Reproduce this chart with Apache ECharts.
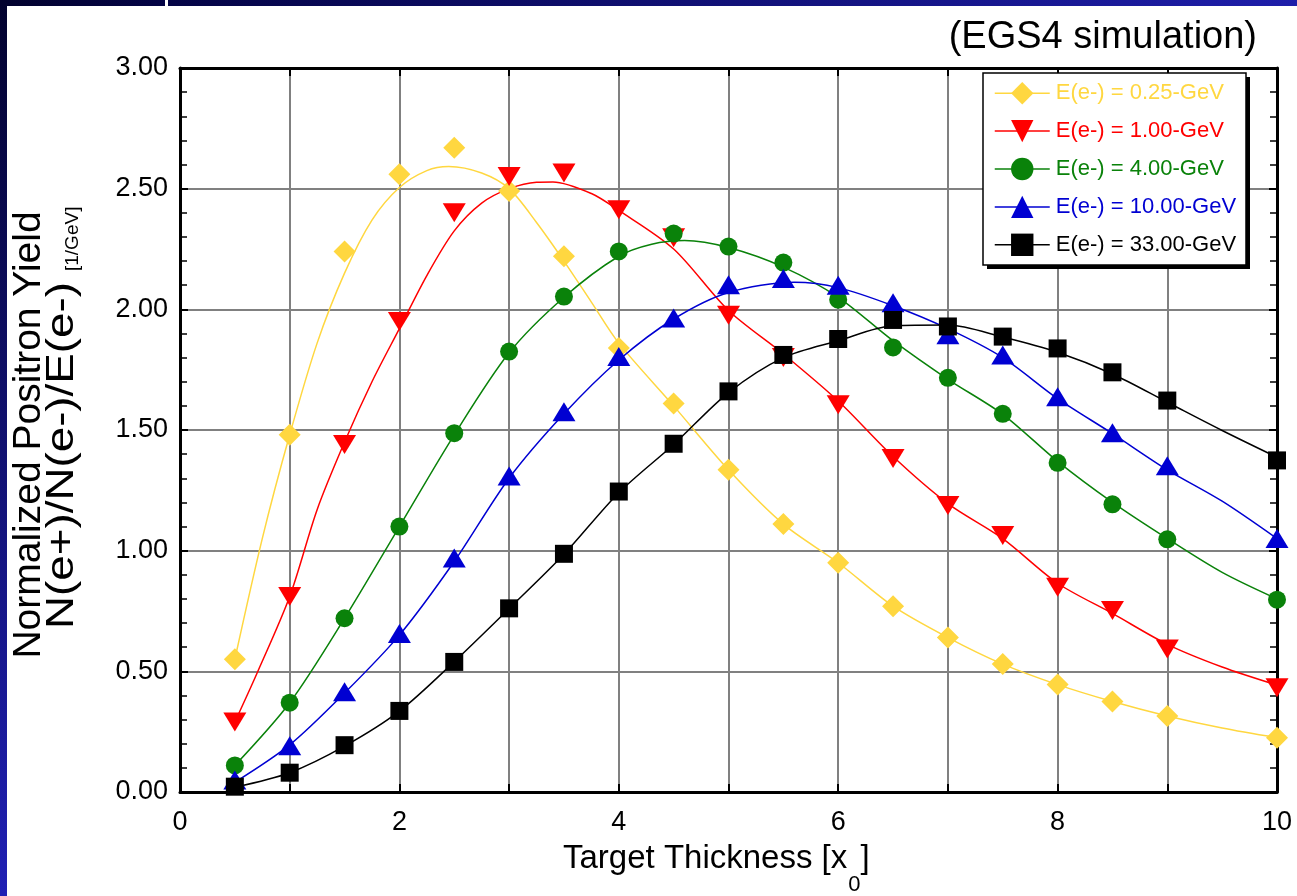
<!DOCTYPE html>
<html><head><meta charset="utf-8">
<script src="https://cdn.jsdelivr.net/npm/echarts@6/dist/echarts.min.js"></script>
<style>html,body{margin:0;padding:0;background:#fff}#c{width:1297px;height:896px}</style>
</head><body><div id="c"></div>
<script>
// ---- data ----
const seriesNames = ['E(e-) = 0.25-GeV','E(e-) = 1.00-GeV','E(e-) = 4.00-GeV','E(e-) = 10.00-GeV','E(e-) = 33.00-GeV'];
const xPts = [0.5,1,1.5,2,2.5,3,3.5,4,4.5,5,5.5,6,6.5,7,7.5,8,8.5,9,10];
const y025  = [0.55,1.48,2.24,2.56,2.67,2.49,2.22,1.84,1.61,1.335,1.11,0.95,0.77,0.64,0.53,0.445,0.375,0.315,0.225];
const y100  = [0.29,0.81,1.44,1.95,2.40,2.55,2.565,2.413,2.297,1.975,1.80,1.605,1.382,1.187,1.063,0.848,0.752,0.593,0.432];
const y400  = [0.11,0.37,0.72,1.10,1.487,1.825,2.053,2.24,2.314,2.26,2.194,2.04,1.842,1.716,1.567,1.364,1.192,1.047,0.797];
const y1000 = [0.05,0.192,0.415,0.657,0.97,1.309,1.576,1.805,1.964,2.102,2.128,2.10,2.027,1.895,1.811,1.638,1.489,1.352,1.05];
const y3300 = [0.022,0.08,0.194,0.336,0.539,0.761,0.987,1.245,1.443,1.66,1.811,1.877,1.956,1.929,1.887,1.838,1.739,1.622,1.374];

// fitted curves
const fitX025 = [0.5,0.75,1,1.25,1.5,1.75,2,2.25,2.45,2.75,3,3.25,3.5,3.75,4,4.5,5,5.5,6,6.5,7,7.5,8,8.5,9,9.5,10];
const fitY025 = [0.55,1.05,1.48,1.86,2.15,2.37,2.505,2.575,2.592,2.565,2.50,2.36,2.20,2.03,1.86,1.60,1.335,1.11,0.95,0.77,0.64,0.53,0.445,0.375,0.315,0.265,0.225];
const fitX100 = [0.5,0.7,1,1.25,1.5,1.75,2,2.25,2.5,2.75,3,3.25,3.4,3.75,4,4.5,5,5.5,6,6.5,7,7.5,8,8.5,9,9.5,10];
const fitY100 = [0.29,0.49,0.81,1.17,1.45,1.70,1.92,2.14,2.325,2.44,2.50,2.527,2.528,2.48,2.41,2.25,1.995,1.815,1.62,1.39,1.195,1.05,0.865,0.74,0.612,0.518,0.443];
const fitX400 = [0.5,1,1.5,2,2.5,3,3.5,4,4.3,4.6,5,5.5,6,6.5,7,7.5,8,8.5,9,9.5,10];
const fitY400 = [0.11,0.37,0.72,1.10,1.48,1.82,2.05,2.22,2.27,2.285,2.256,2.175,2.05,1.87,1.71,1.565,1.37,1.20,1.05,0.91,0.80];
const fitX1000 = [0.5,1,1.5,2,2.5,3,3.5,4,4.5,5,5.6,6,6.5,7,7.5,8,8.5,9,9.5,10];
const fitY1000 = [0.04,0.195,0.41,0.65,0.955,1.30,1.567,1.79,1.96,2.07,2.112,2.09,2.015,1.92,1.80,1.63,1.485,1.335,1.205,1.05];
const fitX3300 = [0.5,1,1.5,2,2.5,3,3.5,4,4.5,5,5.5,6,6.5,7,7.5,8,8.5,9,9.5,10];
const fitY3300 = [0.02,0.08,0.19,0.335,0.54,0.76,0.985,1.24,1.44,1.655,1.80,1.87,1.932,1.935,1.885,1.822,1.732,1.615,1.498,1.387];

// ---- styling ----
const FONT = '"Liberation Sans", Arial, Helvetica, sans-serif';
const colors = ['#FFD740','#FF0000','#0A820A','#0000D2','#000000'];
const symbols = ['diamond','path://M0,0 L24,0 L12,20 Z','circle','triangle','rect'];
const symbolSizes = [22,[23,19],18,[23,19],18];
const markerY = [y025,y100,y400,y1000,y3300];
const fitXs = [fitX025,fitX100,fitX400,fitX1000,fitX3300];
const fitYs = [fitY025,fitY100,fitY400,fitY1000,fitY3300];

const zip = (a,b)=>a.map((v,i)=>[v,b[i]]);
const series = [];
for (let i=0;i<5;i++){
  series.push({type:'line', name:seriesNames[i]+' fit', data:zip(fitXs[i],fitYs[i]), smooth:0.3,
    symbol:'none', silent:true, lineStyle:{color:colors[i], width:1.5}, z:2});
}
for (let i=0;i<5;i++){
  series.push({type:'line', name:seriesNames[i], data:zip(xPts,markerY[i]), symbol:symbols[i],
    symbolSize:symbolSizes[i], showAllSymbol:true, itemStyle:{color:colors[i]},
    lineStyle:{color:colors[i], width:1.5, opacity:0}, z:3});
}

// measure text for title pieces
const cv = document.createElement('canvas').getContext('2d');
const xMain = 'Target Thickness [x';
cv.font = '33px ' + FONT; const wMain = cv.measureText(xMain).width;
cv.font = '22px ' + FONT; const wSub = cv.measureText('0').width;
const xTitleLeft = 563;
const yLine2 = 'N(e+)/N(e-)/E(e-)';
cv.font = '39px ' + FONT; const wLine2 = cv.measureText(yLine2).width;
const line2Scale = 347 / wLine2;

const axisLineStyle = {color:'#000', width:3};
const chart = echarts.init(document.getElementById('c'), null, {renderer:'canvas'});
chart.setOption({
  animation:false,
  backgroundColor:'#fff',
  grid:{left:180, right:20, top:68, bottom:104},
  xAxis:[
    {type:'value', min:0, max:10, interval:1, position:'bottom',
     axisLine:{show:true, onZero:false, lineStyle:axisLineStyle},
     axisTick:{show:true, inside:true, length:8, lineStyle:{color:'#000', width:2}},
     axisLabel:{formatter:v=> (v%2===0? String(v):''), fontSize:27, color:'#000', margin:17, fontFamily:FONT},
     splitLine:{show:true, lineStyle:{color:'#808080', width:2}}},
    {type:'value', min:0, max:10, interval:1, position:'top',
     axisLine:{show:true, onZero:false, lineStyle:axisLineStyle},
     axisTick:{show:true, inside:true, length:8, lineStyle:{color:'#000', width:2}},
     axisLabel:{show:false}, splitLine:{show:false}}
  ],
  yAxis:[
    {type:'value', min:0, max:3, interval:0.5, position:'left',
     axisLine:{show:true, onZero:false, lineStyle:axisLineStyle},
     axisTick:{show:true, inside:true, length:8, lineStyle:{color:'#000', width:2}},
     minorTick:{show:true, splitNumber:5, length:7, lineStyle:{color:'#000', width:1.5}},
     axisLabel:{formatter:v=>v.toFixed(2), fontSize:27, color:'#000', margin:12, fontFamily:FONT},
     splitLine:{show:true, lineStyle:{color:'#808080', width:2}}},
    {type:'value', min:0, max:3, interval:0.5, position:'right',
     axisLine:{show:true, onZero:false, lineStyle:axisLineStyle},
     axisTick:{show:true, inside:true, length:8, lineStyle:{color:'#000', width:2}},
     minorTick:{show:true, splitNumber:5, length:7, lineStyle:{color:'#000', width:1.5}},
     axisLabel:{show:false}, splitLine:{show:false}}
  ],
  legend:{
    orient:'vertical', left:994, top:82, padding:0, itemGap:15.5, itemWidth:55, itemHeight:28,
    z:10, selectedMode:false,
    lineStyle:{width:1.5, opacity:1},
    textStyle:{fontSize:22, fontFamily:FONT, padding:[0,0,0,1]},
    data: seriesNames.map((n,i)=>({name:n, textStyle:{color:colors[i]}}))
  },
  graphic:[
    {type:'rect', z:100, shape:{x:0,y:0,width:165,height:6},
     style:{fill:new echarts.graphic.LinearGradient(0,0,1,0,[{offset:0,color:'#02022e'},{offset:1,color:'#040446'}])}},
    {type:'rect', z:100, shape:{x:168,y:0,width:1129,height:6},
     style:{fill:new echarts.graphic.LinearGradient(0,0,1,0,[{offset:0,color:'#040446'},{offset:1,color:'#1e1eaa'}])}},
    {type:'rect', z:100, shape:{x:0,y:0,width:7,height:896},
     style:{fill:new echarts.graphic.LinearGradient(0,0,0,1,[{offset:0,color:'#02022e'},{offset:1,color:'#2020b4'}])}},
    {type:'text', z:100, x:1257, y:38, style:{text:'(EGS4 simulation)', font:'38px '+FONT, fill:'#000', align:'right', verticalAlign:'middle'}},
    {type:'text', z:100, x:29, y:435, rotation:Math.PI/2,
     style:{text:'Normalized Positron Yield', font:'39px '+FONT, fill:'#000', align:'center', verticalAlign:'middle'}},
    {type:'text', z:100, x:62, y:629, rotation:Math.PI/2, scaleX:line2Scale,
     style:{text:yLine2, font:'39px '+FONT, fill:'#000', align:'left', verticalAlign:'middle'}},
    {type:'text', z:100, x:73, y:271, rotation:Math.PI/2,
     style:{text:'[1/GeV]', font:'19px '+FONT, fill:'#000', align:'left', verticalAlign:'middle'}},
    {type:'text', z:100, x:xTitleLeft, y:859, style:{text:xMain, font:'33px '+FONT, fill:'#000', align:'left', verticalAlign:'middle'}},
    {type:'text', z:100, x:xTitleLeft+wMain+1, y:885, style:{text:'0', font:'22px '+FONT, fill:'#000', align:'left', verticalAlign:'middle'}},
    {type:'text', z:100, x:xTitleLeft+wMain+wSub+1, y:859, style:{text:']', font:'33px '+FONT, fill:'#000', align:'left', verticalAlign:'middle'}},
    {type:'rect', z:5, shape:{x:987,y:77,width:263,height:192}, style:{fill:'#000'}},
    {type:'rect', z:6, shape:{x:983,y:73,width:263,height:192}, style:{fill:'#fff', stroke:'#000', lineWidth:1.5}}
  ],
  series: series
});
</script></body></html>
